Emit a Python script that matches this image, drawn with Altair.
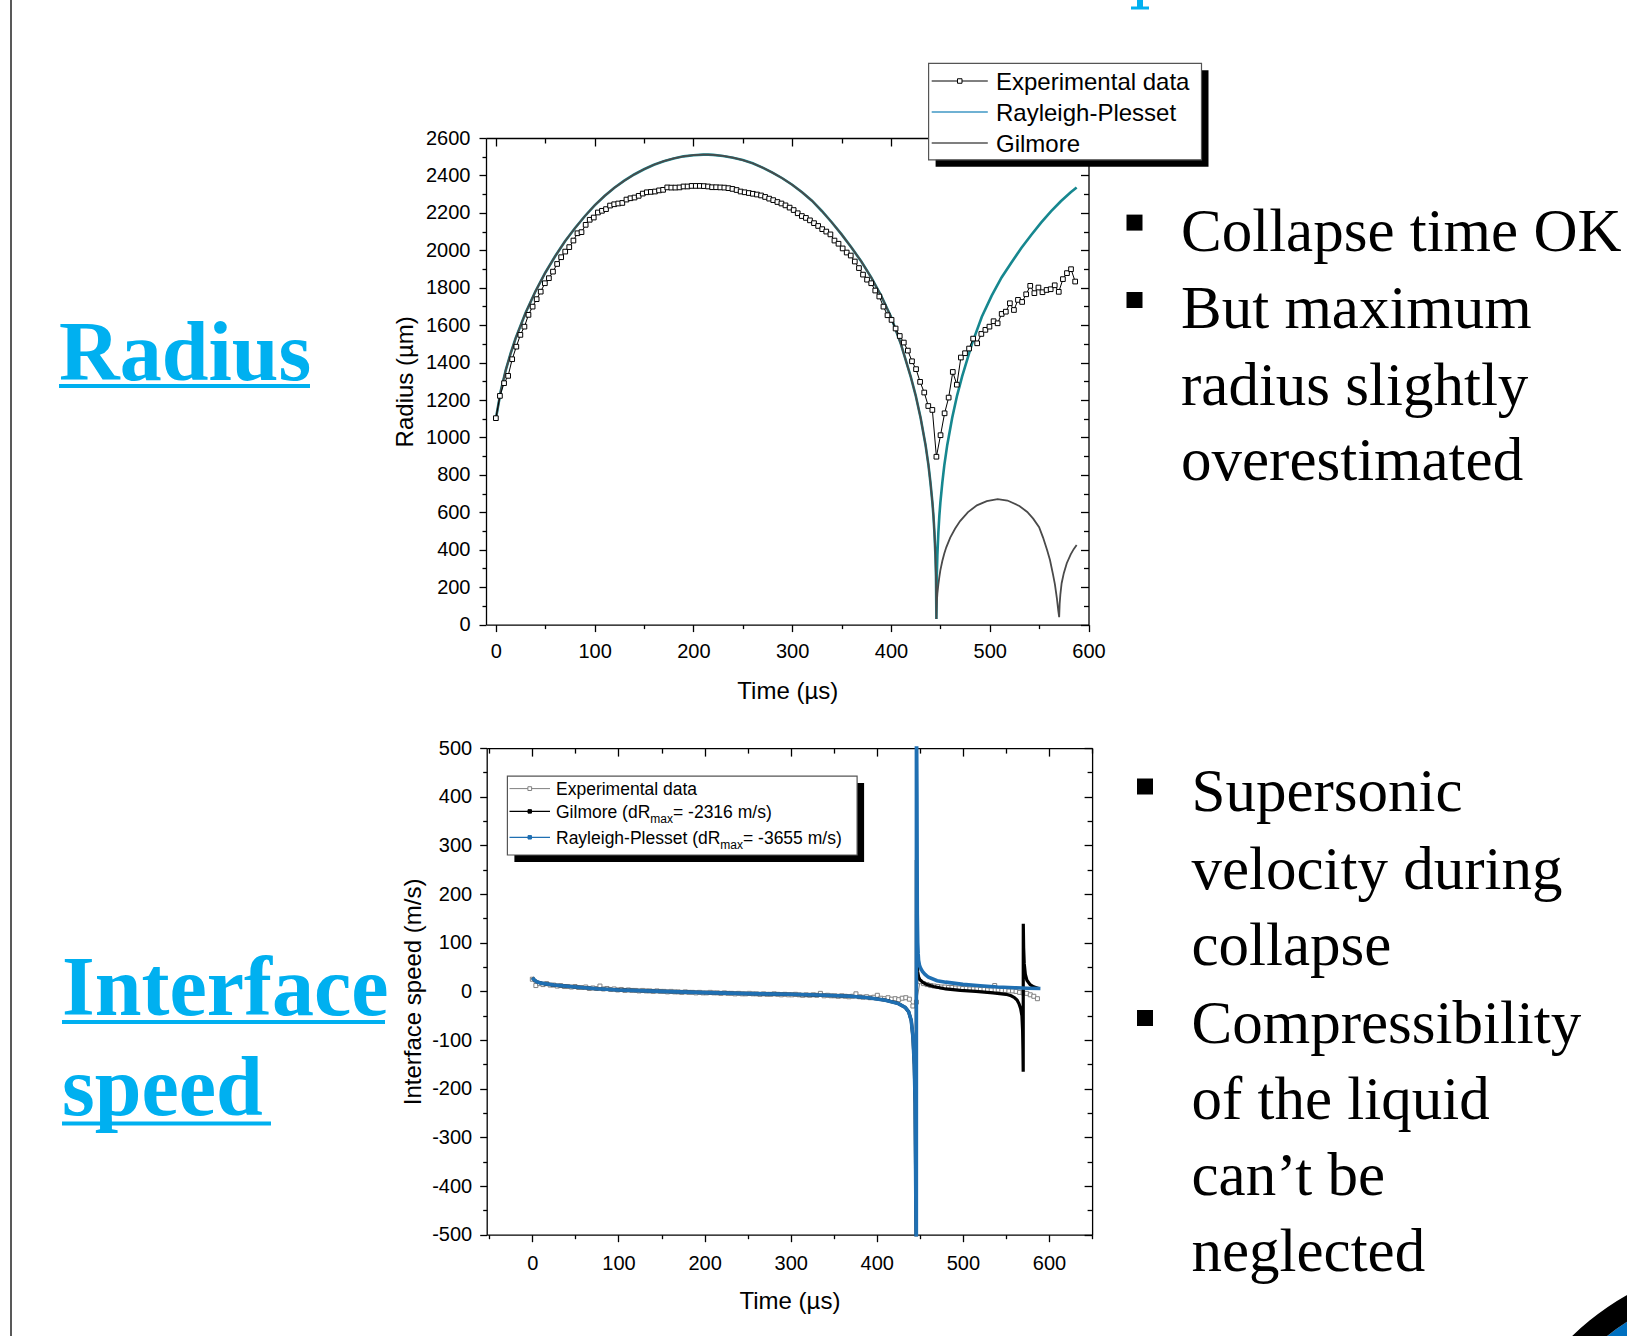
import altair as alt
import pandas as pd

# ---------------- Radius plot data ----------------
t_exp = [0.0, 4.1, 8.3, 12.4, 16.5, 20.7, 24.8, 28.9, 33.0, 37.2,
         41.3, 45.4, 49.6, 53.7, 57.8, 62.0, 66.1, 70.2, 74.3, 78.5,
         82.6, 86.7, 90.9, 95.0, 99.1, 103.3, 107.4, 111.5, 115.6, 119.8,
         123.9, 128.0, 132.2, 136.3, 140.4, 144.6, 148.7, 152.8, 156.9, 161.1,
         165.2, 169.3, 173.5, 177.6, 181.7, 185.9, 190.0, 194.1, 198.2, 202.4,
         206.5, 210.6, 214.8, 218.9, 223.0, 227.2, 231.3, 235.4, 239.5, 243.7,
         247.8, 251.9, 256.1, 260.2, 264.3, 268.5, 272.6, 276.7, 280.8, 285.0,
         289.1, 293.2, 297.4, 301.5, 305.6, 309.8, 313.9, 318.0, 322.1, 326.3,
         330.4, 334.5, 338.7, 342.8, 346.9, 351.1, 355.2, 359.3, 363.4, 367.6,
         371.7, 375.8, 380.0, 384.1, 388.2, 392.4, 396.5, 400.6, 404.7, 408.9,
         413.0, 417.1, 421.3, 425.4, 429.5, 433.7, 437.8, 441.9, 446.0, 450.2,
         454.3, 458.4, 462.6, 466.7, 470.8, 475.0, 479.1, 483.2, 487.3, 491.5,
         495.6, 499.7, 503.9, 508.0, 512.1, 516.3, 520.4, 524.5, 528.6, 532.8,
         536.9, 541.0, 545.2, 549.3, 553.4, 557.6, 561.7, 565.8, 569.9, 574.1,
         578.2, 582.3, 586.5]
r_exp = [1103, 1222, 1290, 1329, 1418, 1485, 1548, 1592, 1655, 1699,
         1739, 1779, 1824, 1851, 1886, 1927, 1963, 1993, 2017, 2052,
         2091, 2097, 2136, 2163, 2175, 2202, 2211, 2220, 2239, 2246,
         2250, 2253, 2271, 2278, 2282, 2291, 2303, 2310, 2312, 2314,
         2320, 2323, 2336, 2335, 2335, 2336, 2341, 2341, 2344, 2344,
         2344, 2343, 2341, 2337, 2337, 2336, 2335, 2332, 2328, 2322,
         2314, 2310, 2306, 2302, 2298, 2293, 2285, 2276, 2268, 2258,
         2250, 2240, 2228, 2215, 2198, 2183, 2173, 2160, 2145, 2130,
         2113, 2100, 2085, 2052, 2035, 2010, 1988, 1972, 1940, 1905,
         1870, 1843, 1824, 1785, 1753, 1699, 1653, 1628, 1582, 1542,
         1507, 1464, 1407, 1365, 1297, 1240, 1168, 1147, 897, 1012,
         1129, 1213, 1350, 1282, 1427, 1450, 1475, 1528, 1503, 1553,
         1575, 1592, 1621, 1610, 1660, 1672, 1717, 1681, 1735, 1724,
         1765, 1810, 1771, 1801, 1776, 1788, 1792, 1813, 1778, 1846,
         1878, 1899, 1833]

# first cycle (both models nearly identical)
t_m1 = [0, 5, 10, 15, 20, 30, 40, 50, 60, 70, 80, 90, 100, 110, 120, 130, 140, 150,
        160, 170, 180, 190, 200, 210, 215, 220, 230, 240, 250, 260, 270, 280, 290,
        300, 310, 320, 330, 340, 350, 360, 370, 380, 390, 400, 410, 420, 425, 430,
        435, 438, 440, 442, 443, 444, 445, 445.6, 446]
r_m1 = [1100, 1250, 1360, 1450, 1530, 1665, 1780, 1880, 1968, 2048, 2118, 2182, 2240,
        2290, 2334, 2372, 2405, 2433, 2457, 2476, 2491, 2502, 2508, 2511, 2511, 2510,
        2504, 2495, 2482, 2465, 2442, 2415, 2385, 2350, 2310, 2265, 2210, 2150, 2085,
        2015, 1940, 1855, 1758, 1645, 1500, 1325, 1225, 1105, 960, 851, 758, 650, 582,
        492, 374, 260, 30]
# Rayleigh-Plesset rebound
t_rp2 = [446.4, 447, 448, 449, 450, 452, 454, 457, 462, 467, 472, 482, 492, 502, 512,
         522, 532, 542, 552, 562, 572, 582, 588]
r_rp2 = [260, 374, 492, 582, 650, 758, 851, 960, 1105, 1225, 1325, 1500, 1645, 1758,
         1855, 1935, 2012, 2082, 2148, 2208, 2262, 2310, 2335]
# Gilmore rebound
t_g2 = [446.2, 446.5, 447, 448, 449, 450, 452, 454, 456, 460, 465, 470, 478, 487, 497,
        508, 518, 530, 538, 544, 550, 554, 558, 561, 564, 566, 568, 569.4, 570.3, 570.8,
        571.5, 572.8, 575, 578, 582, 585, 588]
r_g2 = [80, 125, 165, 215, 255, 290, 340, 380, 413, 465, 513, 553, 601, 637, 660,
        670, 663, 634, 602, 566, 520, 465, 400, 345, 270, 215, 140, 75, 40, 110,
        160, 221, 275, 328, 375, 403, 425]

# ---------------- Interface speed data ----------------
v_exp = [25, 12, 16, 14, 16, 13, 13, 11, 12, 10,
         10, 9, 10, 8, 8, 9, 6, 7, 6, 11,
         5, 6, 4, 5, 3, 4, 2, 3, 2, 2,
         1, 2, 1, 1, 0, 1, 0, 0, -1, 0,
         -1, -1, -2, -1, -2, -2, -3, -2, -3, -3,
         -2, -3, -3, -4, -3, -4, -4, -5, -4, -5,
         -5, -4, -5, -5, -6, -5, -6, -6, -5, -6,
         -7, -6, -7, -7, -6, -7, -8, -7, -8, -7,
         -8, -4, -9, -8, -9, -9, -10, -9, -10, -11,
         -10, -5, -11, -12, -11, -13, -12, -8, -14, -15,
         -13, -16, -15, -17, -14, -13, -16, -30, -22, 20,
         16, 14, 12, 11, 10, 9, 9, 8, 8, 7,
         7, 6, 6, 5, 5, 5, 4, 4, 3, 3,
         12, 3, 2, 2, 1, 1, 0, -2, -3, -4,
         -7, -10, -15]
t_v_pre = [0, 2, 5, 10, 25, 50, 75, 100, 150, 200, 250, 300, 340, 370, 390, 410, 425,
           433, 437, 440, 442, 443.5, 444.5, 445.2, 445.6]
v_pre = [28, 24, 20, 17, 13, 9, 5.5, 3, 0, -2.5, -4.5, -6, -8, -10, -13, -18, -25,
         -33, -42, -60, -95, -150, -230, -400, -800]
t_rp_post = [445.9, 446.0, 446.1, 446.3, 446.6, 447, 447.5, 448, 448.5, 449.5, 451, 453,
             456, 460, 470, 480, 500, 520, 540, 560, 575, 590]
v_rp_post = [-3655, 3655, 2000, 1000, 400, 160, 100, 78, 64, 54, 47, 41, 35, 29, 22, 19,
             14.5, 11.5, 9, 7.5, 6.5, 6]
t_gil_post = [445.9, 446.0, 446.3, 446.6, 447, 447.5, 448.5, 450, 454, 458, 466, 480, 497,
              515, 535, 550, 556, 560, 563, 565, 567, 568.5, 569.3, 569.7, 570.0, 570.1,
              570.5, 571.2, 572.5, 574.3, 578, 582, 588]
v_gil_post = [-2316, 270, 150, 90, 55, 40, 30, 24, 18, 14, 10, 5, 2, 0, -3, -6, -9, -13,
              -18, -25, -35, -50, -80, -120, -165, 139, 90, 57, 35, 23, 14, 9.5, 6]

# ---------------- text ----------------
top_bullets = ["Collapse time OK", "But maximum", "radius slightly", "overestimated"]
bottom_bullets = ["Supersonic", "velocity during", "collapse", "Compressibility",
                  "of  the liquid", "can\u2019t be", "neglected"]

# ---------------- styling ----------------
PAGE_W, PAGE_H = 1627, 1336
ONE = pd.DataFrame({"k": [0]})
CYAN = "#00B0F0"
TEAL = "#16878f"
GILG = "#4a4a4a"
BLUE = "#1f6fb2"
SANS = "Liberation Sans"
SERIF = "Liberation Serif"

AXS = dict(domainColor="black", domainWidth=1.3, tickColor="black", tickWidth=1.3,
           labelColor="black", labelFont=SANS, labelFontSize=20, labelFlush=False,
           labelOverlap=False, labelExpr="'' + datum.value", titleColor="black",
           titleFont=SANS, titleFontSize=24, titleFontWeight="normal", grid=False)


def axis(orient, values, tick, offset, labels=False, title=None, domain=True, **kw):
    d = dict(AXS)
    d.update(kw)
    return alt.Axis(orient=orient, values=values, tickSize=tick, labels=labels,
                    title=title, offset=offset, domain=domain, **d)


def txt(x, y, s, size, font=SERIF, color="black", weight="normal"):
    return alt.Chart(ONE).mark_text(text=s, align="left", baseline="alphabetic", font=font,
                                    fontSize=size, fontWeight=weight, color=color).encode(
        x=alt.value(x), y=alt.value(y))


def rect(x1, x2, y1, y2, fill, stroke=None, sw=1.0):
    if stroke:
        m = alt.Chart(ONE).mark_rect(fill=fill, stroke=stroke, strokeWidth=sw)
    else:
        m = alt.Chart(ONE).mark_rect(fill=fill, strokeWidth=0)
    return m.encode(x=alt.value(x1), x2=alt.value(x2), y=alt.value(y1), y2=alt.value(y2))


def hline(x1, x2, y, color, sw):
    return alt.Chart(ONE).mark_rule(color=color, strokeWidth=sw).encode(
        x=alt.value(x1), x2=alt.value(x2), y=alt.value(y))


def vline(x, y1, y2, color, sw):
    return alt.Chart(ONE).mark_rule(color=color, strokeWidth=sw).encode(
        x=alt.value(x), y=alt.value(y1), y2=alt.value(y2))


def marker(x, y, size, fill, stroke):
    return alt.Chart(ONE).mark_point(shape="square", size=size, filled=True, fill=fill,
                                     stroke=stroke, strokeWidth=1, opacity=1).encode(
        x=alt.value(x), y=alt.value(y))


# ================= TOP PLOT (radius) =================
L1, R1, T1, B1 = 486.0, 1088.5, 138.0, 624.6
xs1 = alt.Scale(domain=[-10, 600], range=[L1, R1], nice=False, zero=False)
ys1 = alt.Scale(domain=[0, 2600], range=[B1, T1], nice=False, zero=False)
xmaj1 = list(range(0, 601, 100))
xmin1 = list(range(50, 551, 100))
ymaj1 = list(range(0, 2601, 200))
ymin1 = list(range(100, 2501, 200))

df_rp = pd.DataFrame({"t": t_m1 + t_rp2, "r": r_m1 + r_rp2})
df_gil = pd.DataFrame({"t": t_m1 + t_g2, "r": r_m1 + r_g2})
df_exp = pd.DataFrame({"t": t_exp, "r": r_exp})

rp1 = alt.Chart(df_rp).mark_line(color=TEAL, strokeWidth=2.6).encode(
    x=alt.X("t:Q", scale=xs1, axis=axis("bottom", xmaj1, 7, B1 - PAGE_H, labels=True,
                                         title="Time (\u00b5s)", labelPadding=10, titleY=73.6,
                                         titleBaseline="alphabetic")),
    y=alt.Y("r:Q", scale=ys1, axis=axis("left", ymaj1, 7, -L1, labels=True,
                                         title="Radius (\u00b5m)", labelPadding=9,
                                         titleX=-73.7, titleBaseline="alphabetic")))
gil1 = alt.Chart(df_gil).mark_line(color=GILG, strokeWidth=1.8).encode(
    x=alt.X("t:Q", scale=xs1, axis=axis("bottom", xmin1, 4, B1 - PAGE_H, domain=False)),
    y=alt.Y("r:Q", scale=ys1, axis=axis("left", ymin1, 4, -L1, domain=False)))
expl1 = alt.Chart(df_exp).mark_line(color="black", strokeWidth=1).encode(
    x=alt.X("t:Q", scale=xs1, axis=axis("bottom", xmaj1, 8, T1 - PAGE_H)),
    y=alt.Y("r:Q", scale=ys1, axis=axis("left", ymaj1, 8, -R1)))
expp1 = alt.Chart(df_exp).mark_point(shape="square", size=22, filled=True, fill="white",
                                     stroke="black", strokeWidth=1, opacity=1).encode(
    x=alt.X("t:Q", scale=xs1, axis=axis("bottom", xmin1, 5, T1 - PAGE_H, domain=False)),
    y=alt.Y("r:Q", scale=ys1, axis=axis("left", ymin1, 5, -R1, domain=False)))

# ================= BOTTOM PLOT (interface speed) =================
L2, R2, T2, B2 = 486.7, 1092.1, 748.1, 1234.7
xs2 = alt.Scale(domain=[-53, 650], range=[L2, R2], nice=False, zero=False)
ys2 = alt.Scale(domain=[-500, 500], range=[B2, T2], nice=False, zero=False, clamp=True)
xmaj2 = list(range(0, 601, 100))
xmin2 = list(range(-50, 651, 100))
ymaj2 = list(range(-500, 501, 100))
ymin2 = list(range(-450, 451, 100))

df_vexp = pd.DataFrame({"t": t_exp, "v": v_exp})
df_vrp = pd.DataFrame({"t": t_v_pre + t_rp_post, "v": v_pre + v_rp_post})
df_vgil = pd.DataFrame({"t": t_v_pre + t_gil_post, "v": v_pre + v_gil_post})

expl2 = alt.Chart(df_vexp).mark_line(color="#808080", strokeWidth=1).encode(
    x=alt.X("t:Q", scale=xs2, axis=axis("bottom", xmaj2, 7, B2 - PAGE_H, labels=True,
                                         title="Time (\u00b5s)", labelPadding=12, titleY=74,
                                         titleBaseline="alphabetic")),
    y=alt.Y("v:Q", scale=ys2, axis=axis("left", ymaj2, 7, -L2, labels=True,
                                         title="Interface speed (m/s)", labelPadding=8,
                                         titleX=-66.4, titleBaseline="alphabetic")))
expp2 = alt.Chart(df_vexp).mark_point(shape="square", size=16, filled=True, fill="white",
                                      stroke="#808080", strokeWidth=1, opacity=1).encode(
    x=alt.X("t:Q", scale=xs2, axis=axis("bottom", xmin2, 4, B2 - PAGE_H, domain=False)),
    y=alt.Y("v:Q", scale=ys2, axis=axis("left", ymin2, 4, -L2, domain=False)))
gil2 = alt.Chart(df_vgil).mark_line(color="black", strokeWidth=3.2).encode(
    x=alt.X("t:Q", scale=xs2, axis=axis("bottom", xmaj2, 8, T2 - PAGE_H)),
    y=alt.Y("v:Q", scale=ys2, axis=axis("left", ymaj2, 8, -R2)))
rp2 = alt.Chart(df_vrp).mark_line(color=BLUE, strokeWidth=3.6).encode(
    x=alt.X("t:Q", scale=xs2, axis=axis("bottom", xmin2, 5, T2 - PAGE_H, domain=False)),
    y=alt.Y("v:Q", scale=ys2, axis=axis("left", ymin2, 5, -R2, domain=False)))

# ================= slide annotations (page pixels) =================
ann = [
    vline(11, 0, PAGE_H, "#222222", 1.5),
    rect(1137, 1143, 0, 9, CYAN),
    rect(1131, 1149, 6.5, 9.5, CYAN),
    # top section
    txt(59, 379.8, "Radius", 84, color=CYAN, weight="bold"),
    hline(59, 310, 386, CYAN, 4),
    rect(1126.5, 1142.5, 214.6, 230.6, "black"),
    rect(1126.5, 1142.5, 292, 308, "black"),
    # top legend
    rect(935.6, 1208.5, 70.3, 166.8, "black"),
    rect(928.6, 1201.5, 63.3, 159.8, "white", "#555555", 1.2),
    hline(931.7, 987.8, 81, "black", 1),
    marker(959.75, 81, 20, "white", "black"),
    hline(931.7, 987.8, 112, "#3f97c4", 1.6),
    hline(931.7, 987.8, 143, "#555555", 1.3),
    txt(996, 89.6, "Experimental data", 24, font=SANS),
    txt(996, 120.6, "Rayleigh-Plesset", 24, font=SANS),
    txt(996, 151.6, "Gilmore", 24, font=SANS),
    # bottom section
    alt.Chart(ONE).mark_arc(theta=5.2, theta2=6.0, radius=247, radius2=0,
                            color="#0070C0").encode(x=alt.value(1760), y=alt.value(1530)),
    alt.Chart(ONE).mark_arc(theta=5.2, theta2=6.0, radius=270, radius2=247,
                            color="black").encode(x=alt.value(1760), y=alt.value(1530)),
    txt(62, 1014.8, "Interface", 84, color=CYAN, weight="bold"),
    hline(62, 385, 1022, CYAN, 4),
    txt(62, 1115.4, "speed", 84, color=CYAN, weight="bold"),
    hline(62, 271, 1123.6, CYAN, 4),
    rect(1137, 1153, 778.5, 794.5, "black"),
    rect(1137, 1153, 1010, 1026, "black"),
    # bottom legend
    rect(514.4, 864.1, 783.1, 862, "black"),
    rect(507.4, 857.1, 776.1, 855, "white", "#555555", 1.2),
    hline(509.5, 550, 788.6, "#808080", 1),
    marker(529.75, 788.6, 14, "white", "#808080"),
    hline(509.5, 550, 811.4, "black", 1.3),
    marker(529.75, 811.4, 12, "black", "black"),
    hline(509.5, 550, 837.3, BLUE, 1.3),
    marker(529.75, 837.3, 12, BLUE, BLUE),
    txt(556, 794.9, "Experimental data", 17.5, font=SANS),
    txt(556, 817.7, "Gilmore (dR", 17.5, font=SANS),
    txt(650.3, 822.7, "max", 12, font=SANS),
    txt(673, 817.7, "= -2316 m/s)", 17.5, font=SANS),
    txt(556, 843.6, "Rayleigh-Plesset (dR", 17.5, font=SANS),
    txt(720.3, 848.6, "max", 12, font=SANS),
    txt(743, 843.6, "= -3655 m/s)", 17.5, font=SANS),
]
for s, yb in zip(top_bullets, [251, 328, 404.7, 480.4]):
    ann.append(txt(1181, yb, s, 61))
for s, yb in zip(bottom_bullets, [811.4, 889.2, 965, 1042.8, 1118.5, 1195.3, 1271]):
    ann.append(txt(1191.5, yb, s, 61))

chart = alt.layer(rp1, gil1, expl1, expp1, expl2, expp2, gil2, rp2, *ann).properties(
    width=PAGE_W, height=PAGE_H, padding=0, background="white",
    autosize=alt.AutoSizeParams(type="none"),
).resolve_scale(x="independent", y="independent").resolve_axis(
    x="independent", y="independent").configure_view(strokeWidth=0)

chart.save("out.html", embed_options={"renderer": "svg", "actions": False})
